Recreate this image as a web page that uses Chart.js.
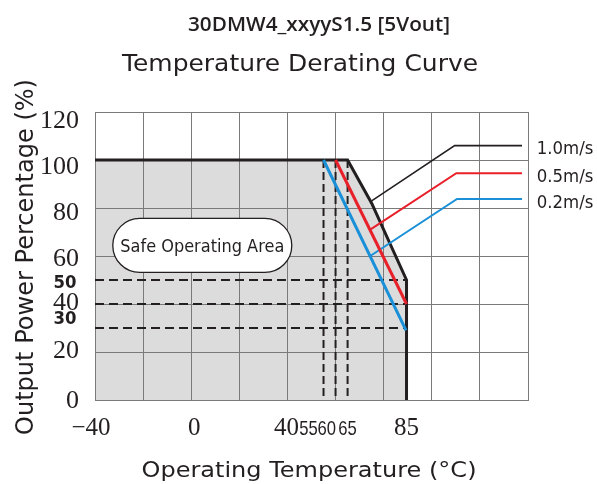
<!DOCTYPE html>
<html>
<head>
<meta charset="utf-8">
<script src="https://cdn.jsdelivr.net/npm/chart.js@4.4.1/dist/chart.umd.min.js"></script>
<style>
html,body{margin:0;padding:0;background:#ffffff;}
#wrap{width:597px;height:484px;position:relative;}
</style>
</head>
<body>
<div id="wrap"><canvas id="c" width="597" height="484"></canvas></div>
<script>
// ---------- texts ----------
const chartTitle = "30DMW4_xxyyS1.5 [5Vout]";
const chartSubtitle = "Temperature Derating Curve";
const xAxisTitle = "Operating Temperature (°C)";
const yAxisTitle = "Output Power Percentage (%)";
const areaLabel = "Safe Operating Area";
const speedLabels = ["1.0m/s", "0.5m/s", "0.2m/s"];

// ---------- axes ----------
const xMin = -40, xMax = 140, xStep = 20;
const yMin = 0, yMax = 120, yStep = 20;
// tick labels and where (in data units, as drawn) they sit
const xTickLabels = ["−40", "0", "40", "55", "60", "65", "85"];
const xTickValues = [-40, 0, 40, 55, 60, 65, 89.5];
const yTickLabels = ["120", "100", "80", "60", "50", "40", "30", "20", "0"];
const yTickValues = [120, 100, 80, 60, 50, 40, 30, 20, 0];

// ---------- curves (temperature, output %) ----------
const curve10X = [-40, 65, 75, 89.5, 89.5];   // 1.0 m/s, bounds the safe area
const curve10Y = [100, 100, 82, 50, 0];
const curve05X = [60, 89.5];                   // 0.5 m/s
const curve05Y = [100, 40];
const curve02X = [55, 89.3];                   // 0.2 m/s
const curve02Y = [100, 29];

// leader lines from the curves to the speed labels
const leader10X = [75, 109.5, 137.5];
const leader10Y = [83, 106, 106];
const leader05X = [74.4, 110.2, 137.5];
const leader05Y = [71, 94.5, 94.5];
const leader02X = [74.4, 110.5, 137.5];
const leader02Y = [60, 83.8, 83.8];

// dashed reference lines
const refTemps = [55, 60, 65];
const refTempTop = 100;
const refPowers = [50, 40, 30];
const refPowerEnds = [89.5, 89.5, 88.5];

// label anchor of the safe operating area (data units)
const areaLabelX = 4.6;
const areaLabelY = 64.4;

// ---------- helpers ----------
const pts = (xs, ys) => xs.map((v, i) => ({x: v, y: ys[i]}));
const INK = '#231f20';
const RED = '#e8202a';
const BLUE = '#1a90d8';

function fitText(ctx, text, x, baseline, font, width, align) {
  ctx.save();
  ctx.font = font;
  const w = ctx.measureText(text).width;
  const s = width ? width / w : 1;
  ctx.translate(x, baseline);
  ctx.scale(s, 1);
  ctx.textAlign = align || 'center';
  ctx.textBaseline = 'alphabetic';
  ctx.fillText(text, 0, 0);
  ctx.restore();
}

const datasets = [];
datasets.push({
  data: pts(curve10X, curve10Y), showLine: true, borderColor: INK, borderWidth: 3,
  pointRadius: 0, fill: 'origin', backgroundColor: '#dcdcdc', order: 2,
  borderJoinStyle: 'miter'
});
datasets.push({data: pts(curve05X, curve05Y), showLine: true, borderColor: RED, borderWidth: 3, pointRadius: 0, fill: false, order: 0});
datasets.push({data: pts(curve02X, curve02Y), showLine: true, borderColor: BLUE, borderWidth: 3, pointRadius: 0, fill: false, order: 0});
datasets.push({data: pts(leader10X, leader10Y), showLine: true, borderColor: INK, borderWidth: 1.6, pointRadius: 0, fill: false, order: 1});
datasets.push({data: pts(leader05X, leader05Y), showLine: true, borderColor: RED, borderWidth: 2, pointRadius: 0, fill: false, order: 1});
datasets.push({data: pts(leader02X, leader02Y), showLine: true, borderColor: BLUE, borderWidth: 2, pointRadius: 0, fill: false, order: 1});
refTemps.forEach(t => datasets.push({
  data: [{x: t, y: refTempTop}, {x: t, y: 0}], showLine: true, borderColor: INK, borderWidth: 2,
  borderDash: [8, 4], pointRadius: 0, fill: false, order: 3
}));
refPowers.forEach((p, i) => datasets.push({
  data: [{x: xMin, y: p}, {x: refPowerEnds[i], y: p}], showLine: true, borderColor: INK, borderWidth: 2,
  borderDash: [9, 5], pointRadius: 0, fill: false, order: 3
}));

const textPlugin = {
  id: 'texts',
  afterDatasetsDraw(chart) {
    const {ctx, scales: {x, y}} = chart;
    // safe operating area pill
    const cx = x.getPixelForValue(areaLabelX), cy = y.getPixelForValue(areaLabelY);
    const w = 179, h = 54;
    ctx.save();
    ctx.beginPath();
    ctx.roundRect(cx - w / 2, cy - h / 2, w, h, h / 2);
    ctx.fillStyle = '#ffffff';
    ctx.fill();
    ctx.lineWidth = 1.3;
    ctx.strokeStyle = INK;
    ctx.stroke();
    ctx.fillStyle = INK;
    fitText(ctx, areaLabel, cx, cy + 6.3, '18px "DejaVu Sans"', 164);
    ctx.restore();
  },
  afterDraw(chart) {
    const {ctx, scales: {x, y}} = chart;
    ctx.save();
    ctx.fillStyle = INK;
    // titles
    fitText(ctx, chartTitle, 319, 31, '600 20px "Open Sans"', 262);
    fitText(ctx, chartSubtitle, 300, 70.7, '22.5px "DejaVu Sans"', 356);
    // x axis title
    fitText(ctx, xAxisTitle, 309, 477.3, '21px "DejaVu Sans"', 335);
    // y axis title (rotated)
    ctx.save();
    ctx.translate(33.3, 257);
    ctx.rotate(-Math.PI / 2);
    fitText(ctx, yAxisTitle, 0, 0, '24px "DejaVu Sans"', 356);
    ctx.restore();

    // x tick labels
    const xShift = {"−40": -4, "0": 3, "40": -1, "55": -15, "60": -8.7, "65": 0, "85": 0};
    xTickLabels.forEach((lab, i) => {
      const px = x.getPixelForValue(xTickValues[i]) + (xShift[lab] || 0);
      if (["55", "60", "65"].includes(lab)) {
        fitText(ctx, lab, px, 434.7, '21px "Liberation Sans"', 18.5);
      } else {
        fitText(ctx, lab, px, 434.7, '25px "Liberation Serif"', 0);
      }
    });
    // y tick labels
    const yShift = {"120": 7, "100": 5, "80": 3, "60": 1.5, "50": 2, "40": -3, "30": -10, "20": -3, "0": -1};
    yTickLabels.forEach((lab, i) => {
      const py = y.getPixelForValue(yTickValues[i]) + (yShift[lab] || 0);
      if (lab === "50" || lab === "30") {
        fitText(ctx, lab, 76.5, py + 6.2, 'bold 17px "DejaVu Sans"', 23, 'right');
      } else {
        fitText(ctx, lab, 79, py + 8.8, '26px "Liberation Serif"', 0, 'right');
      }
    });
    // speed labels at the leader ends
    const ends = [leader10Y[2], leader05Y[2], leader02Y[2]];
    speedLabels.forEach((lab, i) => {
      fitText(ctx, lab, 536.7, y.getPixelForValue(ends[i]) + 8.8, '17px "DejaVu Sans"', 56.7, 'left');
    });
    ctx.restore();
  }
};

new Chart(document.getElementById('c'), {
  type: 'scatter',
  data: {datasets},
  options: {
    responsive: false,
    animation: false,
    events: [],
    layout: {padding: {left: 95, right: 69, top: 112, bottom: 84}},
    plugins: {
      legend: {display: false},
      tooltip: {enabled: false},
      title: {display: false},
      filler: {drawTime: 'beforeDraw'}
    },
    scales: {
      x: {
        type: 'linear', min: xMin, max: xMax,
        ticks: {display: false, stepSize: xStep},
        grid: {color: '#7a7a7a', lineWidth: 1, drawTicks: false},
        border: {color: '#7a7a7a', width: 1}
      },
      y: {
        type: 'linear', min: yMin, max: yMax,
        ticks: {display: false, stepSize: yStep},
        grid: {color: '#7a7a7a', lineWidth: 1, drawTicks: false},
        border: {color: '#7a7a7a', width: 1}
      }
    }
  },
  plugins: [textPlugin]
});
</script>
</body>
</html>
